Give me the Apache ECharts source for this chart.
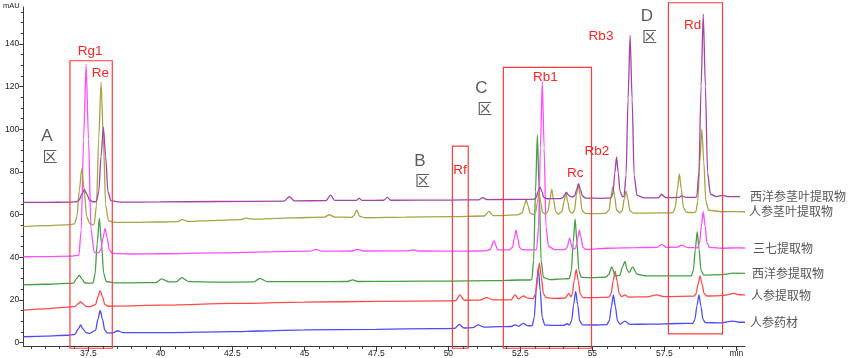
<!DOCTYPE html>
<html><head><meta charset="utf-8">
<script src="https://cdn.jsdelivr.net/npm/echarts@6/dist/echarts.min.js"></script>
<style>html,body{margin:0;padding:0;background:#fff}#c{width:865px;height:358px}</style>
</head><body><div id="c"></div>
<script>
// ---------- data ----------
const seriesNames = ['人参药材','人参提取物','西洋参提取物','三七提取物','人参茎叶提取物','西洋参茎叶提取物'];
const seriesColors = ['#4b4bff','#ff4a4a','#45a045','#ff4cff','#a6a445','#a444a4'];

const renshenYaocai = [[35.24,2.7],[36.0,3.0],[36.8,3.4],[37.03,3.8],[37.15,6.4],[37.23,8.2],[37.31,6.4],[37.42,4.6],[37.55,4.3],[37.75,5.7],[37.83,10.8],[37.91,15.0],[37.99,10.8],[38.07,5.7],[38.16,4.5],[38.35,4.5],[38.52,5.5],[38.7,4.6],[40.0,4.6],[42.5,5.1],[43.5,5.4],[45.0,5.9],[47.5,6.2],[49.5,6.5],[50.22,6.6],[50.38,8.5],[50.54,6.8],[50.85,7.0],[51.03,8.3],[51.25,7.2],[51.8,7.4],[52.18,7.5],[52.31,8.3],[52.44,7.6],[52.6,9.0],[52.76,7.8],[52.91,7.9],[52.98,11.5],[53.05,24.3],[53.12,35.0],[53.19,24.3],[53.26,11.5],[53.35,8.2],[53.6,8.0],[54.0,8.0],[54.12,8.8],[54.2,8.2],[54.28,10.2],[54.35,17.8],[54.42,24.0],[54.49,17.8],[54.56,10.2],[54.65,8.3],[55.0,8.2],[55.5,8.4],[55.59,10.2],[55.66,16.8],[55.73,22.3],[55.80,16.8],[55.87,10.2],[55.96,8.6],[56.13,10.0],[56.3,8.5],[57.0,8.6],[58.0,8.9],[58.49,9.0],[58.56,10.8],[58.63,17.1],[58.70,22.3],[58.77,17.1],[58.84,10.8],[58.93,9.3],[59.4,9.2],[59.88,10.0],[60.1,9.5],[60.3,9.5]];

const renshenTiquwu = [[35.24,15.2],[36.0,15.8],[36.8,16.6],[37.03,16.8],[37.15,18.2],[37.23,19.1],[37.31,18.2],[37.42,16.9],[37.55,16.8],[37.75,17.8],[37.83,21.4],[37.91,24.3],[37.99,21.4],[38.07,17.8],[38.18,17.0],[38.5,17.1],[40.0,17.5],[42.5,18.3],[45.0,18.9],[47.5,19.3],[50.0,19.5],[50.25,19.6],[50.40,22.3],[50.55,19.8],[51.1,19.9],[51.33,21.0],[51.55,20.0],[52.18,20.0],[52.31,22.3],[52.44,20.5],[52.6,21.8],[52.76,20.8],[52.95,20.6],[53.02,22.8],[53.09,30.6],[53.16,37.2],[53.23,30.6],[53.30,22.8],[53.40,21.0],[53.7,20.7],[54.05,20.8],[54.18,23.0],[54.26,21.4],[54.30,22.6],[54.37,29.1],[54.44,34.3],[54.51,29.1],[54.58,22.6],[54.68,21.0],[55.0,21.0],[55.58,21.3],[55.65,22.9],[55.72,28.7],[55.79,33.5],[55.86,28.7],[55.93,22.9],[56.02,21.5],[56.13,22.3],[56.25,21.3],[56.9,21.4],[57.24,22.3],[57.5,21.5],[58.53,21.7],[58.60,22.9],[58.67,27.4],[58.74,31.2],[58.81,27.4],[58.88,22.9],[58.97,21.8],[59.5,22.0],[59.93,23.0],[60.1,22.4],[60.3,22.3]];

const xiyangshenTiquwu = [[35.24,27.0],[36.0,27.3],[36.8,27.7],[36.98,27.8],[37.10,30.1],[37.18,31.6],[37.26,30.1],[37.38,27.9],[37.55,27.8],[37.66,27.9],[37.73,31.9],[37.805,46.3],[37.88,58.3],[37.955,46.3],[38.03,32.5],[38.12,28.6],[38.4,28.0],[39.0,28.0],[39.85,28.1],[40.04,29.8],[40.3,28.4],[40.55,28.5],[40.74,30.4],[41.0,28.5],[42.0,28.3],[43.25,28.4],[43.46,30.1],[43.7,28.5],[45.0,28.5],[46.5,28.6],[46.68,29.4],[46.85,28.6],[48.0,28.7],[50.0,28.8],[51.5,29.0],[52.5,29.3],[52.82,29.3],[52.90,29.5],[52.96,38.5],[53.025,70.6],[53.09,97.3],[53.155,70.6],[53.22,38.5],[53.30,30.5],[53.5,29.5],[54.0,29.8],[54.20,30.0],[54.27,33.7],[54.335,47.0],[54.40,58.0],[54.465,47.0],[54.53,33.7],[54.62,30.5],[55.0,30.4],[55.45,30.6],[55.57,31.8],[55.67,35.5],[55.8,31.2],[55.95,31.5],[56.05,35.5],[56.13,38.0],[56.21,34.0],[56.28,32.8],[56.40,35.5],[56.55,32.0],[56.8,31.3],[57.0,31.2],[58.3,31.2],[58.44,31.3],[58.51,34.0],[58.575,43.8],[58.64,52.0],[58.705,43.8],[58.77,34.0],[58.86,31.6],[59.5,31.8],[59.9,32.5],[60.3,32.4]];

const sanqiTiquwu = [[35.24,40.2],[36.0,40.3],[36.9,40.5],[37.17,41.0],[37.25,52.7],[37.335,95.2],[37.42,130.5],[37.505,95.2],[37.59,53.0],[37.70,42.5],[37.78,42.0],[37.86,42.2],[37.93,43.4],[38.005,48.9],[38.08,53.5],[38.155,48.9],[38.23,43.4],[38.32,41.8],[39.0,41.5],[40.0,41.6],[42.0,42.0],[44.0,42.6],[45.2,42.8],[45.4,43.7],[45.6,42.8],[46.65,42.9],[46.85,43.7],[47.05,42.9],[48.6,43.0],[48.78,43.4],[48.95,42.9],[50.5,42.8],[51.3,43.0],[51.45,43.6],[51.58,47.6],[51.72,43.4],[52.1,43.4],[52.23,44.6],[52.29,49.0],[52.35,52.7],[52.41,49.0],[52.47,44.6],[52.56,43.5],[52.9,43.4],[53.065,43.6],[53.13,54.1],[53.195,91.3],[53.26,122.3],[53.325,91.3],[53.39,54.1],[53.48,45.0],[53.7,43.5],[54.05,43.6],[54.12,44.5],[54.21,48.9],[54.30,44.5],[54.38,43.8],[54.43,44.6],[54.49,49.0],[54.55,52.7],[54.61,49.0],[54.67,44.6],[54.78,43.6],[55.5,44.2],[56.5,44.5],[57.25,44.6],[57.40,46.0],[57.58,44.6],[57.95,44.7],[58.1,45.7],[58.3,44.5],[58.655,44.4],[58.72,46.6],[58.785,54.6],[58.85,61.3],[58.915,54.6],[58.98,46.6],[59.07,44.6],[59.5,44.2],[60.0,44.4],[60.3,44.3]];

const renshenJingye = [[35.24,54.3],[36.0,54.8],[36.9,55.3],[37.02,55.6],[37.10,58.9],[37.185,71.3],[37.27,81.5],[37.355,71.3],[37.44,59.0],[37.55,55.8],[37.65,55.2],[37.70,55.5],[37.78,64.2],[37.86,95.7],[37.94,122.0],[38.02,95.7],[38.10,64.2],[38.20,57.0],[38.4,56.3],[39.0,56.3],[40.0,56.5],[40.6,56.7],[40.76,57.6],[40.95,56.8],[42.0,57.3],[42.8,57.6],[42.97,58.3],[43.2,57.8],[44.5,58.4],[45.7,58.8],[45.87,59.9],[46.05,58.8],[46.65,58.7],[46.72,59.5],[46.82,62.0],[46.92,59.2],[47.1,58.5],[48.5,58.8],[50.0,59.0],[51.25,59.3],[51.41,61.5],[51.55,59.5],[52.4,59.8],[52.57,60.8],[52.635,64.2],[52.70,67.0],[52.765,64.2],[52.83,60.8],[52.95,60.0],[53.03,61.0],[53.09,65.5],[53.15,70.0],[53.21,65.5],[53.27,61.0],[53.37,60.2],[53.46,61.5],[53.525,67.0],[53.59,71.8],[53.655,67.0],[53.72,61.5],[53.82,60.2],[53.95,61.5],[54.015,66.0],[54.08,70.0],[54.145,66.0],[54.21,61.5],[54.30,60.5],[54.38,62.0],[54.445,69.0],[54.51,74.0],[54.575,69.0],[54.64,62.0],[54.75,60.5],[55.0,60.4],[55.45,60.5],[55.58,62.0],[55.645,68.5],[55.71,73.0],[55.775,68.5],[55.84,62.0],[55.95,60.8],[56.04,61.8],[56.105,67.2],[56.17,71.0],[56.235,67.2],[56.30,61.8],[56.42,60.7],[57.0,60.7],[57.7,60.8],[57.81,61.0],[57.88,63.3],[57.95,71.8],[58.02,79.0],[58.09,71.8],[58.16,63.3],[58.26,61.0],[58.5,60.9],[58.59,61.2],[58.66,66.2],[58.73,84.5],[58.80,100.0],[58.87,84.5],[58.94,66.2],[59.04,62.0],[59.5,61.3],[60.0,61.4],[60.3,61.3]];

const xiyangshenJingye = [[35.24,65.7],[36.0,65.7],[36.9,65.8],[37.09,66.0],[37.18,66.8],[37.27,69.4],[37.36,71.8],[37.45,69.4],[37.54,66.8],[37.65,66.0],[37.72,66.0],[37.78,66.2],[37.86,70.7],[37.94,87.2],[38.02,101.0],[38.10,87.2],[38.18,70.7],[38.28,66.5],[38.6,65.8],[40.0,65.9],[42.0,66.1],[44.3,66.3],[44.48,68.4],[44.65,66.4],[45.75,66.5],[45.91,69.1],[46.05,66.6],[46.8,66.6],[46.91,67.6],[47.0,66.6],[47.75,66.7],[47.88,68.0],[48.0,66.7],[50.0,66.8],[51.05,66.9],[51.19,67.9],[51.33,67.0],[52.5,67.1],[53.0,67.2],[53.05,68.0],[53.115,70.8],[53.18,73.0],[53.245,70.8],[53.31,68.0],[53.42,67.4],[53.9,67.5],[53.98,68.0],[54.04,69.3],[54.10,70.5],[54.16,69.3],[54.22,68.5],[54.30,68.2],[54.39,68.8],[54.455,71.8],[54.52,74.5],[54.585,71.8],[54.65,68.8],[54.76,67.7],[55.3,67.6],[55.6,67.7],[55.66,68.0],[55.72,70.4],[55.78,79.5],[55.84,87.0],[55.90,79.5],[55.96,71.0],[56.04,68.4],[56.10,68.5],[56.17,78.4],[56.24,114.2],[56.31,144.0],[56.38,114.2],[56.45,78.4],[56.55,69.0],[56.8,67.8],[57.3,67.8],[57.40,69.5],[57.55,67.9],[58.0,68.0],[58.1,68.7],[58.25,68.0],[58.55,68.0],[58.625,68.3],[58.70,79.7],[58.775,120.2],[58.85,154.0],[58.925,120.2],[59.00,79.7],[59.10,69.5],[59.3,68.4],[59.52,69.0],[59.7,68.4],[60.13,68.4]];

const xMajorTicks = [37.5,40,42.5,45,47.5,50,52.5,55,57.5,60];
const xMinorTicks = [35.5,36,36.5,37,37.5,38,38.5,39,39.5,40,40.5,41,41.5,42,42.5,43,43.5,44,44.5,45,45.5,46,46.5,47,47.5,48,48.5,49,49.5,50,50.5,51,51.5,52,52.5,53,53.5,54,54.5,55,55.5,56,56.5,57,57.5,58,58.5,59,59.5,60];
const yMajorTicks = [0,20,40,60,80,100,120,140];
const yMinorTicks = [0,5,10,15,20,25,30,35,40,45,50,55,60,65,70,75,80,85,90,95,100,105,110,115,120,125,130,135,140,145,150,155];

// annotation boxes [tStart, tEnd, vBottom, vTop]
const boxA = [36.86, 38.33, -2.7, 132.1];
const boxB = [50.14, 50.69, -2.7, 92.1];
const boxC = [51.91, 54.97, -2.7, 129.0];
const boxD = [57.64, 59.52, 4.0, 159.3];
// peak labels [text, t, v]
const peakLabels = [['Rg1',37.56,136.7],['Re',37.92,126.3],['Rf',50.40,80.6],['Rb1',53.37,124.5],['Rc',54.41,79.5],['Rb2',55.16,89.6],['Rb3',55.30,143.4],['Rd',58.48,148.7]];
// region labels [text, t, v]
const regionLabels = [['A',36.06,96.8],['区',36.17,87.4],['B',49.01,85.1],['区',49.10,76.2],['C',51.15,119.3],['区',51.26,109.9],['D',56.89,153.1],['区',56.98,143.7]];

// ---------- chart ----------
const xMin = 35.24, xMax = 60.3, yMin = -1.64, yMax = 157.3;
const allData = [renshenYaocai, renshenTiquwu, xiyangshenTiquwu, sanqiTiquwu, renshenJingye, xiyangshenJingye];
const labelDist = [5, 6, 7, 8, 4, 10];
const numFont = 'Liberation Sans';
const cjkFont = 'Noto Sans CJK SC';

const chart = echarts.init(document.getElementById('c'));
const axisCol = '#3a3a3a';
chart.setOption({
  animation: false,
  backgroundColor: '#fff',
  grid: {left: 23.3, right: 120, top: 7, bottom: 12, containLabel: false},
  xAxis: [
    {type:'value', min:xMin, max:xMax, position:'bottom', offset:0,
     axisLine:{show:true, onZero:false, lineStyle:{color:axisCol, width:1}},
     axisTick:{show:true, customValues:xMajorTicks, length:5, lineStyle:{color:axisCol}},
     axisLabel:{show:true, customValues:xMajorTicks, margin:3, fontSize:8.5, fontFamily:numFont, color:'#222',
       formatter: v => (Math.abs(v-60)<1e-6 ? 'min' : String(v))},
     splitLine:{show:false}},
    {type:'value', min:xMin, max:xMax, position:'bottom', offset:0,
     axisLine:{show:false, onZero:false},
     axisTick:{show:true, customValues:xMinorTicks, length:3, lineStyle:{color:axisCol}},
     axisLabel:{show:false}, splitLine:{show:false}}
  ],
  yAxis: [
    {type:'value', min:yMin, max:yMax, position:'left', offset:0,
     axisLine:{show:true, onZero:false, lineStyle:{color:axisCol, width:1}},
     axisTick:{show:true, customValues:yMajorTicks, length:4, lineStyle:{color:axisCol}},
     axisLabel:{show:true, customValues:yMajorTicks, margin:4, fontSize:8.5, fontFamily:numFont, color:'#222'},
     splitLine:{show:false}},
    {type:'value', min:yMin, max:yMax, position:'left', offset:0,
     axisLine:{show:false, onZero:false},
     axisTick:{show:true, customValues:yMinorTicks, length:2.5, lineStyle:{color:axisCol}},
     axisLabel:{show:false}, splitLine:{show:false}}
  ],
  series: allData.map((d, i) => ({
    name: seriesNames[i], type:'line', xAxisIndex:0, yAxisIndex:0,
    data: d, showSymbol:false, symbol:'none', smooth:0.25, smoothMonotone:'x',
    lineStyle:{color:seriesColors[i], width:1.3}, itemStyle:{color:seriesColors[i]},
    z: 2 + i,
    endLabel:{show:true, formatter: seriesNames[i], distance: labelDist[i], color:'#555',
      fontSize:12, fontFamily:cjkFont, align:'left', verticalAlign:'middle'},
    emphasis:{disabled:true}
  }))
});

function px(t, v){ return chart.convertToPixel({seriesIndex:0}, [t, v]); }
const graphics = [];
[boxA, boxB, boxC, boxD].forEach(b => {
  const p1 = px(b[0], b[3]), p2 = px(b[1], b[2]);
  graphics.push({type:'rect', z:20, shape:{x:p1[0], y:p1[1], width:p2[0]-p1[0], height:p2[1]-p1[1]},
    style:{fill:'none', stroke:'#ff3b3b', lineWidth:1.2}});
});
peakLabels.forEach(l => {
  const p = px(l[1], l[2]);
  graphics.push({type:'text', z:21, x:p[0], y:p[1], style:{text:l[0], fill:'#ff2424',
    font:'13.5px "' + numFont + '"', align:'center', verticalAlign:'middle'}});
});
regionLabels.forEach(l => {
  const p = px(l[1], l[2]);
  graphics.push({type:'text', z:21, x:p[0], y:p[1], style:{text:l[0], fill:'#5c5c5c',
    font:(l[0]==='区' ? '15px "' + cjkFont + '"' : '17px "' + numFont + '"'), align:'center', verticalAlign:'middle'}});
});
graphics.push({type:'text', z:21, x:3, y:6, style:{text:'mAU', fill:'#222', font:'7.5px "' + numFont + '"', align:'left', verticalAlign:'middle'}});
chart.setOption({graphic: graphics});
</script>
</body></html>
